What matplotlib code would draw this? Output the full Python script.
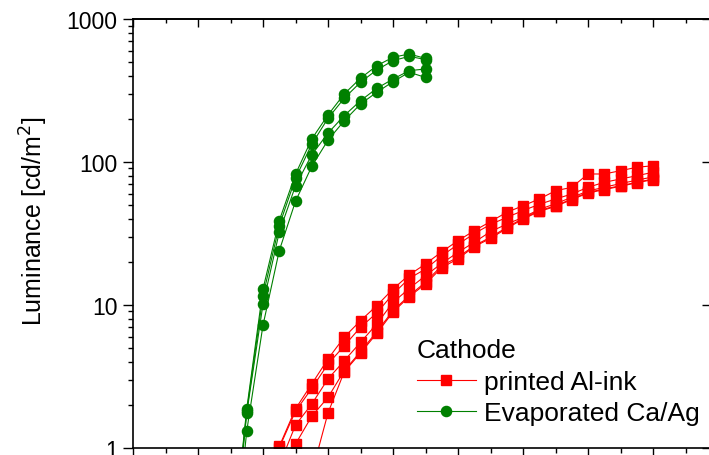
import numpy as np
import matplotlib
matplotlib.use("Agg")
import matplotlib.pyplot as plt
from matplotlib.ticker import MultipleLocator, LogLocator, NullLocator, NullFormatter

plt.rcParams["font.family"] = ["Liberation Sans", "DejaVu Sans"]

# voltage steps (x labels are cropped in the reference)
x_green = [2.5, 2.75, 3.0, 3.25, 3.5, 3.75, 4.0, 4.25, 4.5, 4.75, 5.0, 5.25, 5.5]
green_1 = [0.15, 1.87, 12.9, 38.8, 82, 144.6, 213, 299, 385, 471, 540, 569, 530]
green_2 = [0.14, 1.8, 11.6, 35.8, 76.8, 133, 202, 279, 361, 440, 511, 548, 520]
green_3 = [0.12, 1.75, 10.1, 32.2, 68, 112, 159, 211, 268, 327, 380, 435, 447]
green_4 = [0.10, 1.31, 7.2, 23.9, 53, 93, 142, 194, 254, 307, 364, 424, 390]

x_red = [3.0, 3.25, 3.5, 3.75, 4.0, 4.25, 4.5, 4.75, 5.0, 5.25, 5.5, 5.75, 6.0,
         6.25, 6.5, 6.75, 7.0, 7.25, 7.5, 7.75, 8.0, 8.25, 8.5, 8.75, 9.0]
red_1 = [0.45, 1.02, 1.87, 2.79, 4.18, 5.94, 7.74, 9.86, 12.9, 16.2, 19.3, 23.5, 28.1,
         33, 38.2, 44.4, 49.3, 55, 62.8, 66.4, 82.3, 82.3, 86.8, 91.7, 94]
red_2 = [0.40, 1.0, 1.8, 2.6, 3.85, 5.17, 6.96, 8.77, 11.9, 15.3, 17.8, 22, 26.5,
         31.5, 36.5, 40.9, 45.6, 50.5, 55, 59.6, 66.4, 72, 75.9, 80, 84.6]
red_3 = [0.30, 0.75, 1.44, 2.02, 3.03, 4.06, 5.46, 7.34, 10.4, 13.0, 16.0, 19.5, 23.3,
         27.4, 32.5, 36.7, 40.9, 46.5, 51, 56.5, 62.5, 66.5, 70.5, 74.5, 78.5]
red_4 = [0.15, 0.4, 1.06, 1.66, 2.25, 3.46, 4.7, 6.48, 9.1, 11.6, 14.4, 18.8, 21.5,
         25.9, 29.7, 34.8, 40.3, 45.6, 49.3, 55, 61.3, 64.6, 68.1, 72, 75.9]
red_5 = [0.10, 0.2, 0.4, 0.66, 1.75, 3.4, 4.6, 6.3, 8.9, 11.4, 14.0, 18.2, 21,
         25.5, 29.2, 34.2, 39.8, 45, 48.8, 54.5, 60.5, 64, 67.5, 71.4, 75.2]

y_ticks = [1, 10, 100, 1000]
y_labels = ["1", "10", "100", "1000"]

fig = plt.figure(figsize=(7.09, 4.56), dpi=100)
ax = fig.add_axes([133 / 709, 1 - 448.7 / 456, 577 / 709, (448.7 - 20) / 456])

red = "#ff0000"
green = "#008000"
for i, ys in enumerate([red_1, red_2, red_3, red_4, red_5]):
    ax.plot(x_red, ys, color=red, lw=0.8, marker="s", ms=6.5, mec=red, mfc=red,
            label="printed Al-ink" if i == 0 else None)
for i, ys in enumerate([green_1, green_2, green_3, green_4]):
    ax.plot(x_green, ys, color=green, lw=0.8, marker="o", ms=7.3, mec=green, mfc=green,
            label="Evaporated Ca/Ag" if i == 0 else None)

ax.set_yscale("log")
ax.set_ylim(1, 1000)
ax.set_xlim(1, 1 + 577 / 65)

ax.set_yticks(y_ticks)
ax.set_yticklabels(y_labels)
ax.yaxis.set_minor_locator(LogLocator(base=10, subs=np.arange(2, 10)))
ax.yaxis.set_minor_formatter(NullFormatter())
ax.xaxis.set_major_locator(MultipleLocator(1))
ax.xaxis.set_minor_locator(MultipleLocator(0.5))
ax.tick_params(axis="both", which="major", direction="out", length=7, width=1.0,
               labelsize=16.5, top=False, right=False)
ax.tick_params(axis="both", which="minor", direction="out", length=3.6, width=1.0,
               top=False, right=False)
# x tick labels lie below the cropped picture
ax.tick_params(axis="x", labelbottom=False)
ax.tick_params(axis="y", pad=4)
ax.set_ylabel("Luminance [cd/m$^2$]", fontsize=18)
ax.yaxis.set_label_coords(-0.143, 0.531)

# mirrored axes: ticks pointing inwards
secx = ax.secondary_xaxis("top")
secx.xaxis.set_major_locator(MultipleLocator(1))
secx.xaxis.set_minor_locator(MultipleLocator(0.5))
secx.tick_params(which="major", direction="in", length=6, width=1.0, labeltop=False)
secx.tick_params(which="minor", direction="in", length=3, width=1.0)
secy = ax.secondary_yaxis("right")
secy.set_yticks(y_ticks)
secy.yaxis.set_minor_locator(NullLocator())
secy.tick_params(which="major", direction="in", length=6, width=1.0, labelright=False)

for a in (ax, secx, secy):
    for s in a.spines.values():
        s.set_linewidth(1.2)

leg = ax.legend(title="Cathode", loc="upper left", bbox_to_anchor=(0.492, 0.255),
                frameon=False, fontsize=19, title_fontsize=19, handlelength=2.23,
                handletextpad=0.3, labelspacing=0.28, borderaxespad=0,
                alignment="left", borderpad=0)

fig.savefig("out.png", dpi=100)
